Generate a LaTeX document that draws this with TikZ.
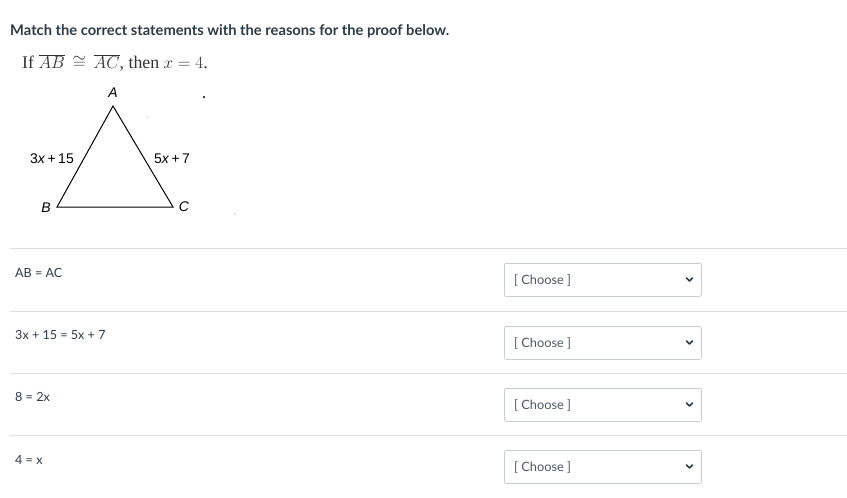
\documentclass[tikz,border=0pt]{standalone}
\usepackage{fontspec}
\setmainfont{Lato}
\newfontfamily\serifA{Liberation Serif}
\newfontfamily\sansA{Liberation Sans}
\definecolor{rule}{HTML}{DDDDDD}
\definecolor{boxb}{HTML}{C7CDD1}
\definecolor{txt}{HTML}{2D3B45}
\begin{document}
\begin{tikzpicture}[x=1pt,y=-1pt,
  sep/.style={draw=rule,line width=1pt},
  stmt/.style={anchor=base west,font=\fontsize{12.6}{14}\selectfont,text=txt,inner sep=0pt},
  ddbox/.style={draw=boxb,rounded corners=2pt,minimum width=197pt,minimum height=33pt,anchor=north west,line width=0.8pt},
  ddtext/.style={anchor=base west,font=\fontsize{12.8}{14}\selectfont,text=txt!85,inner sep=0pt},
  tri/.style={line width=1pt},
  lbl/.style={font=\sansA\fontsize{14}{16}\selectfont,inner sep=0pt}]
\useasboundingbox (0,0) rectangle (847,498);
\fill[white] (0,0) rectangle (847,498);
\node[anchor=base west,inner sep=0pt,font=\bfseries\fontsize{14.7}{17}\selectfont,text=txt] (title) at (10,35) {Match the correct statements with the reasons for the proof below.};
\node[anchor=base west,inner sep=0pt,font=\serifA\fontsize{17.8}{20}\selectfont,text=black!80] (stmt0) at (22,68) {If $\overline{AB}\,\cong\,\overline{AC}$, then $x=4$.};
% triangle
\coordinate (A) at (113,106);
\coordinate (B) at (57,207);
\coordinate (C) at (173,207);
\draw[tri] (A) -- (B) -- (C) -- cycle;
\node[lbl] (la) at (113,93) {\textit{A}};
\node[lbl] (lb) at (46,208) {\textit{B}};
\node[lbl] (lc) at (184,207) {\textit{C}};
\node[lbl] (l1) at (52,159) {3\textit{x}\,+\,15};
\node[lbl] (l2) at (172,159) {5\textit{x}\,+\,7};
\fill (204,97) circle (1.2pt);
\fill[black!60] (147,117) circle (0.5pt);
\fill[black!60] (235,214) circle (0.6pt);
% separators
\foreach \y in {248,311,373,435} \draw[sep] (10,\y) -- (847,\y);
% statements
\node[stmt] (s1) at (15,277) {AB = AC};
\node[stmt] (s2) at (15,339) {3x + 15 = 5x + 7};
\node[stmt] (s3) at (15,401) {8 = 2x};
\node[stmt] (s4) at (15,464) {4 = x};
% dropdowns
\foreach \y/\n in {263/1,326/2,388/3,450/4}{
  \node[ddbox] (d\n) at (504,\y) {};
  \node[ddtext] (t\n) at (514,\y+21) {[ Choose ]};
  \draw[line width=1.6pt,txt,line cap=round,line join=round] (686.5,\y+15) -- (689.5,\y+18) -- (692.5,\y+15);
}
\end{tikzpicture}
\end{document}
